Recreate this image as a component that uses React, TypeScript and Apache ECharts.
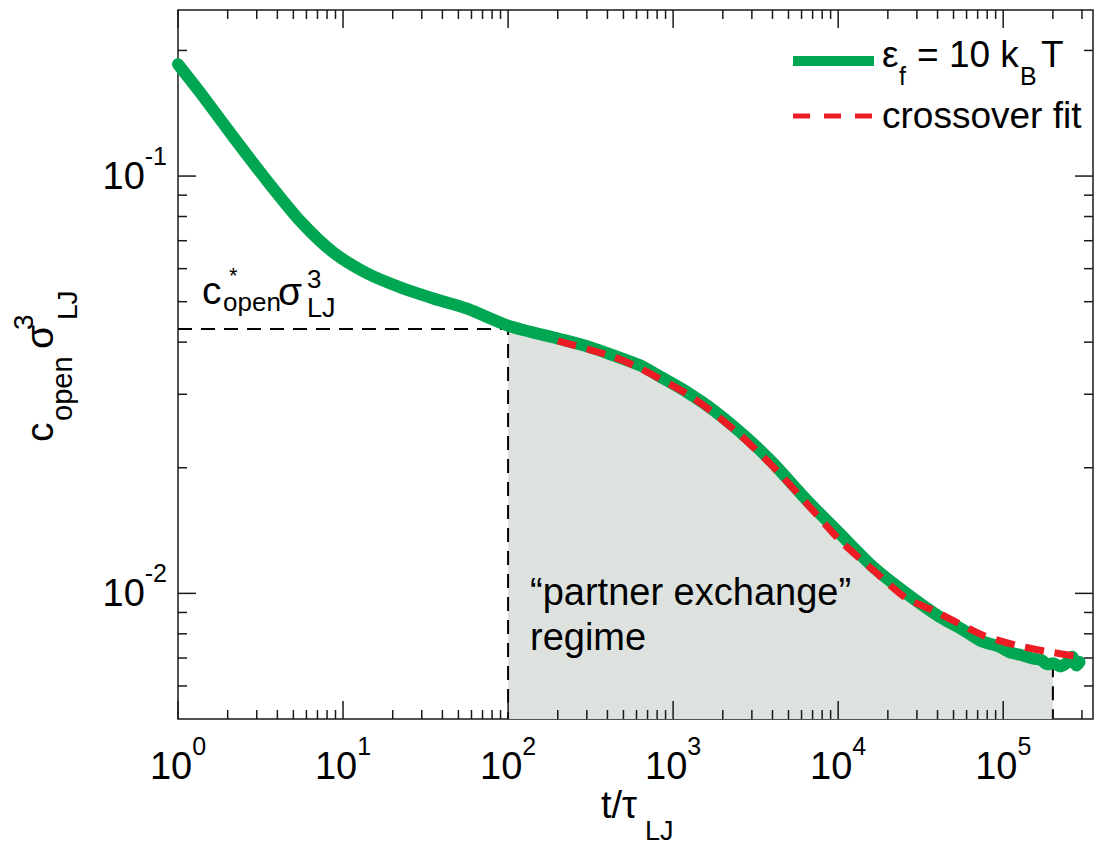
import React, { useEffect, useRef } from 'react';
import * as echarts from 'echarts';

// ---- data ----
// simulation curve (epsilon_f = 10 kBT)
const SIM_T = [1, 1.372, 2.173, 3.488, 5.525, 8.748, 14.05, 22.24, 35.23, 56.56, 100, 206, 301, 434, 630, 832, 1207, 1750, 2790, 4040, 6430, 10200, 16250, 25900, 41100, 52000, 59700, 72000, 85000, 94800, 110000, 128000, 150700, 170000, 185000, 200000, 222000, 245000, 262000, 278000, 290000];
const SIM_C = [0.1854, 0.158, 0.1238, 0.0971, 0.0779, 0.0656, 0.0584, 0.0541, 0.0509, 0.0481, 0.0438, 0.0407, 0.0391, 0.0372, 0.0352, 0.0331, 0.0304, 0.0275, 0.0236, 0.0205, 0.01675, 0.01393, 0.01158, 0.0100, 0.00879, 0.00835, 0.00809, 0.00772, 0.00755, 0.00745, 0.00722, 0.00712, 0.00698, 0.00692, 0.00676, 0.00680, 0.00668, 0.00683, 0.00705, 0.00672, 0.00685];
// crossover fit
const FIT_T = [200, 434, 630, 1207, 1750, 2535, 4040, 6430, 10200, 16250, 25900, 37400, 75200, 119700, 190000, 290000];
const FIT_C = [0.0403, 0.0369, 0.0346, 0.0301, 0.0271, 0.0240, 0.0201, 0.01644, 0.01343, 0.01138, 0.00973, 0.00912, 0.00794, 0.00751, 0.00724, 0.00705];
// c*_open and regime limits
const C_STAR = 0.043;
const T_START = 100;
const T_END = 200000;
// axes
const X_MIN = 1;
const X_MAX = 350000;
const Y_MIN = 0.005;
const Y_MAX = 0.25;
const X_TICKS = [1, 2, 3, 4, 5, 6, 7, 8, 9, 10, 20, 30, 40, 50, 60, 70, 80, 90, 100, 200, 300, 400, 500, 600, 700, 800, 900, 1000, 2000, 3000, 4000, 5000, 6000, 7000, 8000, 9000, 10000, 20000, 30000, 40000, 50000, 60000, 70000, 80000, 90000, 100000, 200000, 300000];
const Y_TICKS = [0.006, 0.007, 0.008, 0.009, 0.01, 0.02, 0.03, 0.04, 0.05, 0.06, 0.07, 0.08, 0.09, 0.1, 0.2];

const FONT = '"Liberation Sans", Arial, Helvetica, sans-serif';
const GREEN = '#00a651';
const RED = '#ed1c24';
const INK = '#1a1a1a';

function isPow10(v: number) {
  const e = Math.log10(v);
  return Math.abs(e - Math.round(e)) < 1e-6;
}

function txt(text: string, x: number, baseline: number, fs: number) {
  return {
    type: 'text',
    x,
    y: baseline - 0.35 * fs,
    z: 50,
    silent: true,
    style: {
      text,
      font: `${fs}px ${FONT}`,
      fill: '#000',
      textAlign: 'left',
      textVerticalAlign: 'middle',
    },
  };
}

export default function App() {
  const ref = useRef<HTMLDivElement>(null);

  useEffect(() => {
    if (!ref.current) return;
    const chart = echarts.init(ref.current, null, { renderer: 'svg' });

    const sim = SIM_T.map((t, i) => [t, SIM_C[i]]);
    const fit = FIT_T.map((t, i) => [t, FIT_C[i]]);
    const shade = sim.filter((p) => p[0] >= T_START && p[0] <= T_END);
    const cEnd = SIM_C[SIM_T.indexOf(T_END)];

    const labelRich = {
      b: { fontSize: 38, fontFamily: FONT, color: '#000', lineHeight: 66, verticalAlign: 'middle' },
      s: { fontSize: 25, fontFamily: FONT, color: '#000', lineHeight: 27, verticalAlign: 'top' },
    };
    const powFmt = (v: number) => (isPow10(v) ? `{b|10}{s|${Math.round(Math.log10(v))}}` : '');

    const tickStyle = { stroke: INK, lineWidth: 1.5 };

    const option: any = {
      animation: false,
      grid: {
        left: 178, right: 2, top: 10, bottom: 126,
        show: true, borderColor: INK, borderWidth: 1.5,
        outerBoundsMode: 'none',
      },
      xAxis: {
        type: 'log', logBase: 10, min: X_MIN, max: X_MAX,
        axisLine: { show: false }, axisTick: { show: false }, splitLine: { show: false },
        axisLabel: { formatter: powFmt, rich: labelRich, margin: 14, hideOverlap: false },
      },
      yAxis: {
        type: 'log', logBase: 10, min: Y_MIN, max: Y_MAX,
        axisLine: { show: false }, axisTick: { show: false }, splitLine: { show: false },
        axisLabel: { formatter: powFmt, rich: labelRich, margin: 11, hideOverlap: false },
      },
      series: [
        {
          name: 'regime', type: 'line', data: shade, showSymbol: false, silent: true, z: 1, smooth: 0.2,
          lineStyle: { width: 0 }, areaStyle: { color: '#dde2de', opacity: 1, origin: 'start' },
        },
        {
          name: 'cstar', type: 'line', data: [[X_MIN, C_STAR], [T_START, C_STAR], [T_START, Y_MIN]],
          showSymbol: false, silent: true, z: 2,
          lineStyle: { color: '#000', width: 2, type: [14, 9] },
        },
        {
          name: 'end', type: 'line', data: [[T_END, cEnd], [T_END, Y_MIN]],
          showSymbol: false, silent: true, z: 2,
          lineStyle: { color: '#000', width: 2, type: [14, 9] },
        },
        {
          name: 'sim', type: 'line', data: sim, showSymbol: false, silent: true, z: 3, smooth: 0.25,
          lineStyle: { color: GREEN, width: 12, cap: 'round', join: 'round' },
        },
        {
          name: 'fit', type: 'line', data: fit, showSymbol: false, silent: true, z: 4, smooth: 0.25,
          lineStyle: { color: RED, width: 7, type: [19, 11], cap: 'butt' },
        },
        {
          name: 'xticks', type: 'custom', silent: true, z: 5,
          data: X_TICKS.map((t) => [t, 0.01]),
          renderItem: (params: any, api: any) => {
            const cs = params.coordSys;
            const t = api.value(0);
            const p = api.coord([t, api.value(1)]);
            const len = isPow10(t) ? 18 : 9;
            const yb = cs.y + cs.height;
            return {
              type: 'group',
              children: [
                { type: 'line', shape: { x1: p[0], y1: yb, x2: p[0], y2: yb - len }, style: tickStyle },
                { type: 'line', shape: { x1: p[0], y1: cs.y, x2: p[0], y2: cs.y + len }, style: tickStyle },
              ],
            };
          },
        },
        {
          name: 'yticks', type: 'custom', silent: true, z: 5,
          data: Y_TICKS.map((c) => [10, c]),
          renderItem: (params: any, api: any) => {
            const cs = params.coordSys;
            const c = api.value(1);
            const p = api.coord([api.value(0), c]);
            const len = isPow10(c) ? 18 : 9;
            const xr = cs.x + cs.width;
            return {
              type: 'group',
              children: [
                { type: 'line', shape: { x1: cs.x, y1: p[1], x2: cs.x + len, y2: p[1] }, style: tickStyle },
                { type: 'line', shape: { x1: xr, y1: p[1], x2: xr - len, y2: p[1] }, style: tickStyle },
              ],
            };
          },
        },
      ],
      graphic: [
        // legend
        { type: 'line', silent: true, z: 50, shape: { x1: 793, y1: 61, x2: 874, y2: 61 }, style: { stroke: GREEN, lineWidth: 10 } },
        { type: 'line', silent: true, z: 50, shape: { x1: 793, y1: 116, x2: 874, y2: 116 }, style: { stroke: RED, lineWidth: 5, lineDash: [17, 14] } },
        txt('ε', 882, 67, 37),
        txt('f', 899, 85, 25),
        txt('= 10 k', 917, 67, 37),
        txt('B', 1020, 85, 25),
        txt('T', 1041, 67, 37),
        txt('crossover fit', 882, 128, 37),
        // regime annotation
        txt('\u201cpartner exchange\u201d', 530, 605, 38),
        txt('regime', 530, 650, 38),
        // c*_open sigma^3_LJ annotation
        txt('c', 202, 304, 39),
        txt('*', 229, 283, 22),
        txt('open', 223, 311, 26),
        txt('σ', 278, 305, 39),
        txt('3', 307, 288, 26),
        txt('LJ', 307, 317, 27),
        // x axis title
        txt('t/τ', 601, 818, 38),
        txt('LJ', 645, 840, 27),
        // y axis title (rotated)
        {
          type: 'group', x: 53, y: 443, rotation: Math.PI / 2, silent: true, z: 50,
          children: [
            txt('c', 1, 0, 39),
            txt('open', 22, 19, 29),
            txt('σ', 94, 0, 39),
            txt('3', 113, -20, 28),
            txt('LJ', 123, 24, 28),
          ],
        },
      ],
    };

    chart.setOption(option);
    return () => chart.dispose();
  }, []);

  return <div ref={ref} style={{ position: 'absolute', left: 0, top: 0, width: 1095, height: 845 }} />;
}
